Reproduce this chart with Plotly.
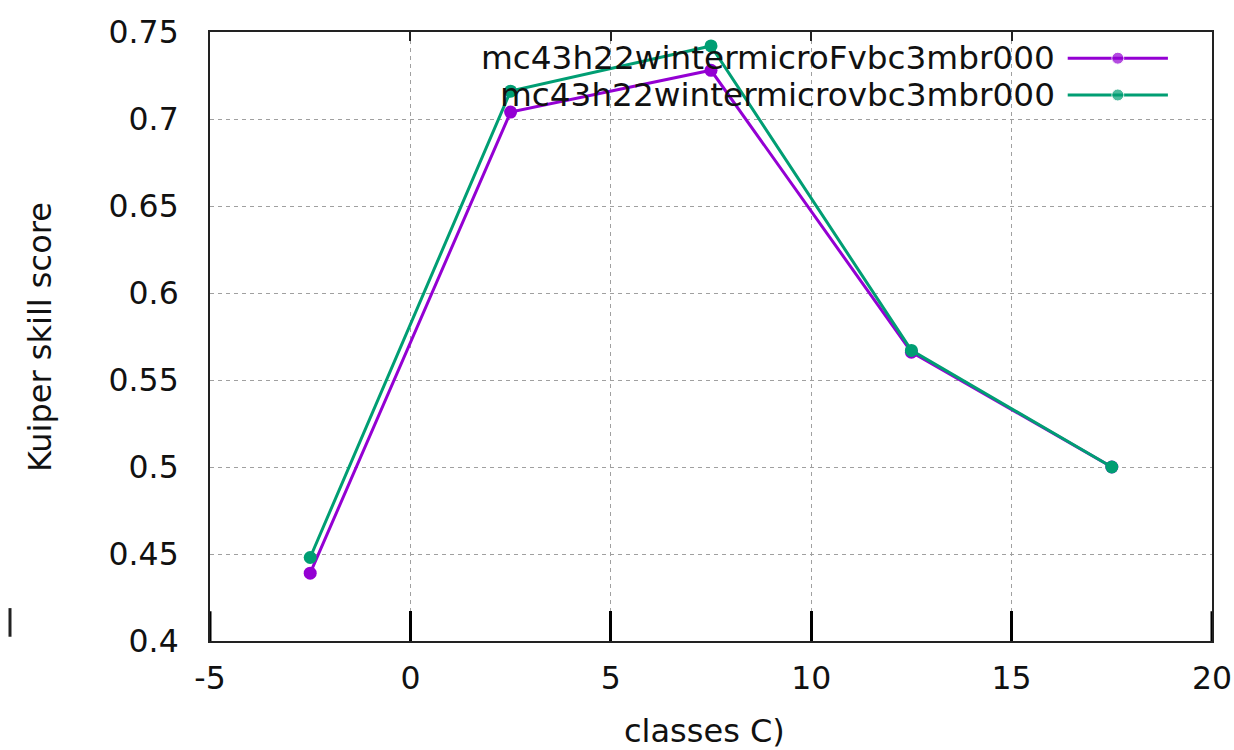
import plotly.graph_objects as go

# ---- data ----
classes = [-2.5, 2.5, 7.5, 12.5, 17.5]
series_names = ["mc43h22wintermicroFvbc3mbr000", "mc43h22wintermicrovbc3mbr000"]
kss_F = [0.439, 0.704, 0.728, 0.566, 0.500]
kss_noF = [0.448, 0.716, 0.742, 0.567, 0.500]
colors = ["#9400D3", "#009E73"]
x_ticks = [-5, 0, 5, 10, 15, 20]
x_ticktext = ["-5", "0", "5", "10", "15", "20"]
y_ticks = [0.4, 0.45, 0.5, 0.55, 0.6, 0.65, 0.7, 0.75]
y_ticktext = ["0.4", "0.45", "0.5", "0.55", "0.6", "0.65", "0.7", "0.75"]

FONT = "DejaVu Sans"
FS = 32
TXT = "#111111"

fig = go.Figure()
for name, vals, col in zip(series_names, [kss_F, kss_noF], colors):
    fig.add_trace(go.Scatter(
        x=classes, y=vals, mode="lines+markers", name=name,
        line=dict(color=col, width=3),
        marker=dict(color=col, size=13, symbol="circle"),
        showlegend=False, xaxis="x", yaxis="y"))

# gnuplot-style legend (text left, sample on the right) on a hidden overlay axis
leg_y = [0.957, 0.8966]
for name, col, ly in zip(series_names, colors, leg_y):
    fig.add_trace(go.Scatter(
        x=[0.856, 0.906, 0.956], y=[ly, ly, ly], mode="lines+markers",
        line=dict(color=col, width=3),
        marker=dict(color=col, size=[0, 12, 0], symbol="circle"),
        showlegend=False, hoverinfo="skip", xaxis="x2", yaxis="y2"))
    fig.add_annotation(xref="paper", yref="paper", x=0.8453, y=ly, text=name,
                       showarrow=False, xanchor="right", yanchor="middle",
                       font=dict(family=FONT, size=32.7, color=TXT))

grid = dict(showgrid=True, gridcolor="#a0a0a0", gridwidth=1.3, griddash="4px,4px")

fig.update_layout(
    width=1234, height=750,
    margin=dict(l=210, r=22, t=32, b=109, autoexpand=False),
    paper_bgcolor="white", plot_bgcolor="white",
    font=dict(family=FONT, size=31.5, color=TXT),
    xaxis=dict(range=[-5, 20], tickvals=x_ticks, ticktext=x_ticktext, ticks="inside",
               ticklen=30, tickwidth=3, tickcolor="black", showline=True, linecolor="#222",
               linewidth=2, mirror=True, zeroline=False, ticklabelstandoff=8,
               automargin=False, **grid),
    yaxis=dict(range=[0.4, 0.75], tickvals=y_ticks, ticktext=y_ticktext, ticks="",
               showline=True, linecolor="#222", linewidth=2, mirror=True,
               zeroline=False, ticklabelstandoff=23, automargin=False, **grid),
    xaxis3=dict(range=[-5, 20], overlaying="x", side="top", tickvals=x_ticks,
                ticks="inside", ticklen=9, tickwidth=1.5, tickcolor="#222",
                showticklabels=False, showgrid=False, zeroline=False, showline=False,
                automargin=False),
    xaxis2=dict(range=[0, 1], overlaying="x", visible=False, automargin=False),
    yaxis2=dict(range=[0, 1], overlaying="y", visible=False, automargin=False),
)
# need a trace on xaxis3 so it renders
fig.add_trace(go.Scatter(x=[None], y=[None], xaxis="x3", yaxis="y", showlegend=False))

# thick tick marks at the two range ends (drawn over the border)
for xv in (x_ticks[0], x_ticks[-1]):
    fig.add_shape(type="line", xref="x", yref="y domain", x0=xv, x1=xv, y0=0, y1=0.049,
                  line=dict(color="black", width=3))

fig.add_annotation(xref="paper", yref="paper", x=-0.1697, y=0.499, text="Kuiper skill score",
                   textangle=-90, showarrow=False, xanchor="center", yanchor="middle",
                   font=dict(family=FONT, size=FS, color=TXT))
fig.add_annotation(xref="paper", yref="paper", x=0.494, y=-0.1478, text="classes C)",
                   showarrow=False, xanchor="center", yanchor="middle",
                   font=dict(family=FONT, size=FS, color=TXT))
# stray tick mark at left edge of the image
fig.add_shape(type="line", xref="paper", yref="paper", x0=-0.1996, x1=-0.1996,
              y0=0.007, y1=0.054, line=dict(color="#222", width=3))

fig.write_html("out.html")
